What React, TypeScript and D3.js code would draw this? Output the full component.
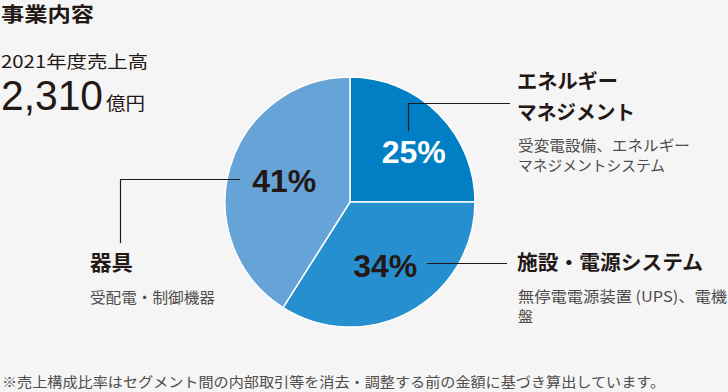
import { useMemo } from "react";
import * as d3 from "d3";

const segments = ["エネルギーマネジメント", "施設・電源システム", "器具"];
const shares = [25, 34, 41];
const colors = ["#007fc4", "#268fcf", "#66a3d6"];
const labelColors = ["#ffffff", "#231815", "#231815"];

const W = 728;
const H = 392;
const CX = 350;
const CY = 202;
const R = 125;
// label placement: radius from centre and a small angle nudge (radians)
const labelRadius = [81, 73, 69];
const labelNudge = [0.12, 0, 0.02];

const JP = "'Noto Sans CJK JP', 'Noto Sans', sans-serif";
const NUM = "'Liberation Sans', Arial, Helvetica, sans-serif";
const INK = "#231815";
const SUB = "#4f4c4b";

export default function App() {
  const arcs = useMemo(() => {
    const pie = d3.pie<number>().sort(null).value(d => d);
    const arcGen = d3.arc<d3.PieArcDatum<number>>().innerRadius(0).outerRadius(R);
    return pie(shares).map((a, i) => {
      const mid = (a.startAngle + a.endAngle) / 2 + labelNudge[i];
      const lr = labelRadius[i];
      return {
        name: segments[i],
        path: arcGen(a)!,
        color: colors[i],
        label: `${shares[i]}%`,
        lx: Math.sin(mid) * lr,
        ly: -Math.cos(mid) * lr,
      };
    });
  }, []);

  return (
    <div style={{ position: "fixed", left: 0, top: 0, width: W, height: H, background: "#f5f5f5" }}>
      <svg width={W} height={H} viewBox={`0 0 ${W} ${H}`} style={{ display: "block" }}>
        <rect width={W} height={H} fill="#f5f5f5" />

        {/* header */}
        <text x={1} y={22} fontFamily={JP} fontWeight={700} fontSize={20} fill={INK} textLength={93} lengthAdjust="spacingAndGlyphs">事業内容</text>
        <text x={1} y={68} fontFamily={JP} fontSize={17} fill={INK} textLength={147} lengthAdjust="spacingAndGlyphs">2021年度売上高</text>
        <text x={1} y={110} fontFamily={NUM} fontSize={43} fill={INK} textLength={102} lengthAdjust="spacingAndGlyphs">2,310</text>
        <text x={106} y={110} fontFamily={JP} fontSize={18} fill={INK} textLength={39} lengthAdjust="spacingAndGlyphs">億円</text>

        {/* pie */}
        <g transform={`translate(${CX},${CY})`}>
          {arcs.map((a, i) => (
            <path key={i} d={a.path} fill={a.color} stroke="#ffffff" strokeWidth={1.5} />
          ))}
        </g>

        {/* leader lines */}
        <g stroke={INK} strokeWidth={1.2} fill="none">
          <polyline points={`408.5,131 408.5,103.5 510,103.5`} />
          <polyline points={`427,263.5 507,263.5`} />
          <polyline points={`240,179.5 120.5,179.5 120.5,243`} />
        </g>

        {/* percentages */}
        <g transform={`translate(${CX},${CY})`}>
          {arcs.map((a, i) => (
            <text key={i} x={a.lx} y={a.ly + 11} textAnchor="middle" fontFamily={NUM} fontWeight={700} fontSize={32} fill={labelColors[i]}>
              {a.label}
            </text>
          ))}
        </g>

        {/* segment names */}
        <text x={517} y={89} fontFamily={JP} fontWeight={700} fontSize={20} fill={INK} textLength={101} lengthAdjust="spacingAndGlyphs">エネルギー</text>
        <text x={517} y={120} fontFamily={JP} fontWeight={700} fontSize={20} fill={INK} textLength={118} lengthAdjust="spacingAndGlyphs">マネジメント</text>
        <text x={518} y={151} fontFamily={JP} fontSize={15} fill={SUB} textLength={172} lengthAdjust="spacingAndGlyphs">受変電設備、エネルギー</text>
        <text x={518} y={171} fontFamily={JP} fontSize={15} fill={SUB} textLength={147} lengthAdjust="spacingAndGlyphs">マネジメントシステム</text>

        <text x={517} y={270} fontFamily={JP} fontWeight={700} fontSize={20} fill={INK} textLength={186} lengthAdjust="spacingAndGlyphs">施設・電源システム</text>
        <text x={518} y={302} fontFamily={JP} fontSize={15} fill={SUB} textLength={209} lengthAdjust="spacingAndGlyphs">無停電電源装置 (UPS)、電機</text>
        <text x={518} y={322} fontFamily={JP} fontSize={15} fill={SUB}>盤</text>

        <text x={90} y={270} fontFamily={JP} fontWeight={700} fontSize={21} fill={INK} textLength={43} lengthAdjust="spacingAndGlyphs">器具</text>
        <text x={90} y={303} fontFamily={JP} fontSize={15} fill={SUB} textLength={125} lengthAdjust="spacingAndGlyphs">受配電・制御機器</text>

        {/* footnote */}
        <text x={2} y={387} fontFamily={JP} fontSize={14} fill={SUB} textLength={663} lengthAdjust="spacingAndGlyphs">※売上構成比率はセグメント間の内部取引等を消去・調整する前の金額に基づき算出しています。</text>
      </svg>
    </div>
  );
}
